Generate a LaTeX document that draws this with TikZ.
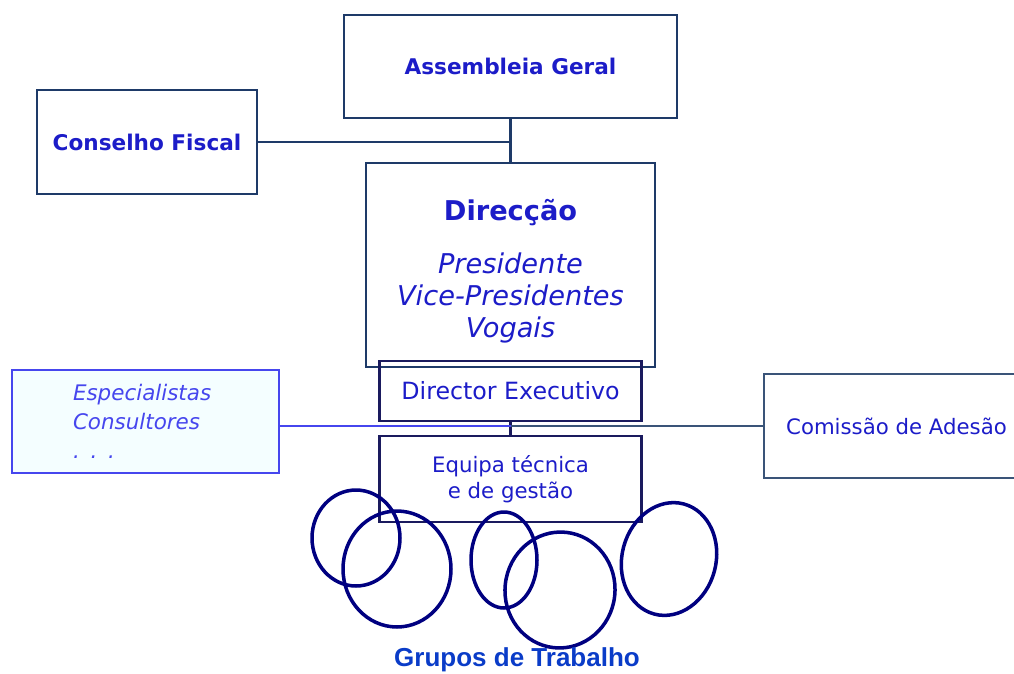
\documentclass[tikz,border=0pt]{standalone}
\usepackage{fontspec}
\setmainfont{DejaVu Sans}
\newfontfamily\grpfont{Liberation Sans}
\usetikzlibrary{positioning}
\definecolor{txtblue}{HTML}{1C1CC8}
\definecolor{boxnavy}{HTML}{1E3A68}
\definecolor{denavy}{HTML}{1A1A5E}
\definecolor{ringnavy}{HTML}{000080}
\definecolor{espblue}{HTML}{4646EE}
\definecolor{espfill}{HTML}{F4FEFF}
\definecolor{comline}{HTML}{3A5478}
\definecolor{grpblue}{HTML}{0A3CC8}

\begin{document}
\begin{tikzpicture}[x=0.02cm,y=-0.02cm]
	\tikzstyle{box}=[rectangle, draw=boxnavy, line width=1.4pt, text=txtblue, inner sep=0pt, outer sep=0pt, align=center]
	\tikzstyle{side}=[rectangle, line width=0.9pt, inner sep=0pt, outer sep=0pt]
	\tikzstyle{connect}=[line width=1.2pt, draw=boxnavy]
	\tikzstyle{thin}=[line width=0.8pt]
	\tikzstyle{ring}=[line width=2pt, draw=ringnavy]
	\useasboundingbox (0,0) rectangle (1014,673);
	% top of the chart
	\node[box, minimum width=6.66cm, minimum height=2.06cm, font=\fontsize{12.3}{15}\selectfont\bfseries] (ag) at (510.5,66.5) {Assembleia Geral};
	\node[box, line width=1.2pt, minimum width=4.4cm, minimum height=2.08cm, font=\fontsize{12.3}{15}\selectfont\bfseries] (cf) at (147,142) {Conselho Fiscal};
	\node[box, minimum width=5.78cm, minimum height=4.08cm, below=0.9cm of ag, font=\fontsize{15.5}{18.2}\selectfont] (dir) {\rule{0pt}{19pt}\textbf{Direcção}\\[11.8pt]\textit{Presidente}\\\textit{Vice-Presidentes}\\\textit{Vogais}};
	\node[box, draw=denavy, minimum width=5.24cm, minimum height=1.2cm, below=-0.12cm of dir, font=\fontsize{13.5}{16}\selectfont] (de) {Director Executivo};
	\node[box, draw=denavy, minimum width=5.24cm, minimum height=1.72cm, below=0.3cm of de, font=\fontsize{12.1}{14.8}\selectfont] (eq) {Equipa técnica\\e de gestão};
	% sides
	\node[side, draw=espblue, fill=espfill, text=espblue, minimum width=5.34cm, minimum height=2.06cm, text width=2.9cm, align=left, font=\fontsize{12.2}{16.5}\selectfont\itshape] (esp) at (145.5,421.5) {Especialistas\\Consultores\\. . .};
	\node[side, draw=comline, text=txtblue, minimum width=5.3cm, minimum height=2.08cm, anchor=west, font=\fontsize{12.1}{15}\selectfont] (com) at (764,426) {Comissão de Adesão};

	\path (ag) edge [connect] (dir)
	(cf) edge [connect, line width=1.1pt] (cf -| ag.south)
	(de) edge [connect, draw=denavy] (eq)
	(esp.east |- com.west) edge [thin, draw=espblue] (com.west -| de.south)
	(com) edge [thin, draw=comline] (com.west -| de.south);

	% grupos de trabalho
	\draw[ring] (356,538) ellipse (0.88cm and 0.96cm);
	\draw[ring] (397,569) ellipse (1.08cm and 1.16cm);
	\draw[ring] (504,560) ellipse (0.66cm and 0.96cm);
	\draw[ring, rotate around={-6:(560,590)}] (560,590) ellipse (1.1cm and 1.16cm);
	\draw[ring, rotate around={-15:(669,559)}] (669,559) ellipse (0.94cm and 1.14cm);
	\node[text=grpblue, font=\grpfont\fontsize{14.8}{17}\selectfont\bfseries] (gt) at (517,660) {Grupos de Trabalho};
\end{tikzpicture}
\end{document}
